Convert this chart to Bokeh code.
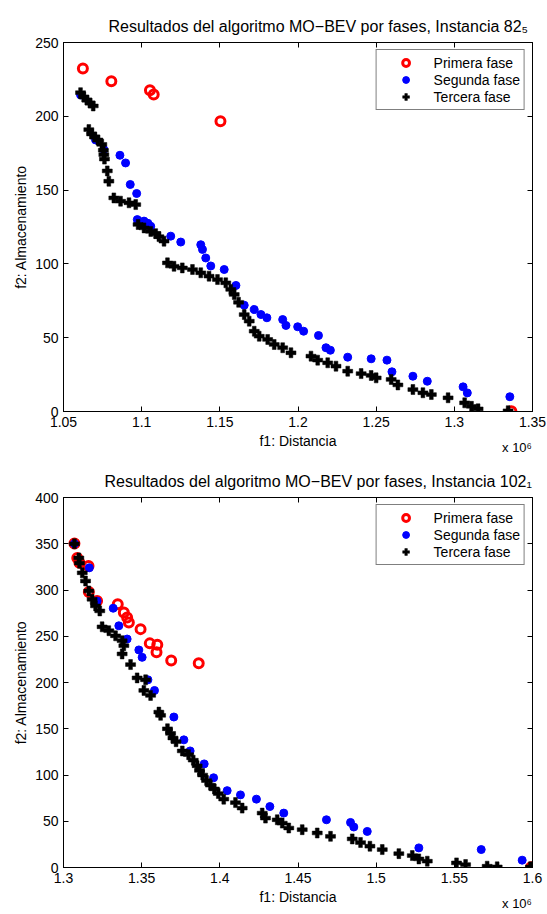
from bokeh.plotting import figure
from bokeh.models import Range1d, FixedTicker, LinearAxis
from bokeh.layouts import column
from bokeh.embed import file_html
from bokeh.resources import INLINE

FONT = "Liberation Sans"

# ---------------- data: instancia 82_5 (x in units of 10^6) ----------------
a_red_x = [1.0624, 1.0806, 1.1053, 1.1077, 1.1504, 1.3365]
a_red_y = [232.4, 223.8, 217.7, 214.8, 196.7, 0.2]

a_blue_x = [1.0609, 1.0705, 1.0758, 1.0861, 1.0897, 1.0927, 1.0968, 1.0972, 1.1015, 1.1040,
            1.1058, 1.1186, 1.1250, 1.1378, 1.1389, 1.1410, 1.1442, 1.1528, 1.1603, 1.1656,
            1.1720, 1.1763, 1.1801, 1.1902, 1.1923, 1.1998, 1.2036, 1.2131, 1.2179, 1.2207,
            1.2318, 1.2468, 1.2569, 1.2601, 1.2735, 1.2827, 1.3056, 1.3083, 1.3355]
a_blue_y = [214.5, 184.0, 177.5, 173.6, 168.4, 153.8, 147.7, 130.0, 129.0, 127.5,
            125.5, 118.8, 114.8, 113.0, 109.8, 104.0, 98.6, 96.2, 85.4, 72.0,
            69.1, 65.7, 63.5, 62.3, 58.3, 57.4, 54.4, 51.5, 43.2, 41.5,
            36.8, 35.7, 34.8, 26.9, 23.9, 20.5, 16.7, 12.6, 10.0]

a_black_x = [1.0609, 1.0630, 1.0650, 1.0670, 1.0690, 1.0662, 1.0680, 1.0700, 1.0720, 1.0745,
             1.0755, 1.0758, 1.0762, 1.0780, 1.0790, 1.0822, 1.0865, 1.0919, 1.0962, 1.0977,
             1.1015, 1.1058, 1.1090, 1.1110, 1.1143, 1.1165, 1.1207, 1.1260, 1.1325, 1.1378,
             1.1431, 1.1485, 1.1538, 1.1570, 1.1592, 1.1620, 1.1656, 1.1688, 1.1720, 1.1752,
             1.1806, 1.1848, 1.1902, 1.1955, 1.2083, 1.2126, 1.2190, 1.2243, 1.2318, 1.2404,
             1.2468, 1.2500, 1.2596, 1.2639, 1.2735, 1.2799, 1.2853, 1.2960, 1.3066, 1.3110,
             1.3152, 1.3344]
a_black_y = [216.0, 213.0, 211.0, 209.0, 207.0, 191.0, 188.0, 186.0, 184.0, 181.0,
             177.0, 174.0, 171.0, 163.0, 156.0, 144.7, 142.5, 141.4, 140.2, 126.7,
             124.4, 122.0, 120.5, 118.5, 115.4, 100.7, 98.4, 97.3, 96.2, 94.0,
             91.7, 89.4, 87.2, 82.7, 79.3, 74.0, 65.7, 61.2, 54.4, 51.0,
             48.8, 45.4, 43.2, 39.8, 37.5, 34.8, 33.0, 30.7, 27.3, 25.7,
             24.4, 22.8, 21.7, 18.0, 14.9, 12.7, 11.5, 9.3, 5.9, 3.5,
             1.8, 0.5]

# ---------------- data: instancia 102_1 ----------------
b_red_x = [1.3070, 1.3088, 1.3102, 1.3160, 1.3162, 1.3215, 1.3347, 1.3386, 1.3407, 1.3418,
           1.3493, 1.3552, 1.3600, 1.3595, 1.3689, 1.3865, 1.5991]
b_red_y = [350.2, 334.7, 329.4, 326.0, 297.8, 288.0, 284.6, 275.6, 270.2, 264.8,
           257.7, 242.3, 240.9, 232.6, 223.7, 220.8, 0.3]

b_blue_x = [1.3070, 1.3165, 1.3215, 1.3318, 1.3354, 1.3407, 1.3482, 1.3503, 1.3540, 1.3582,
            1.3706, 1.3770, 1.3810, 1.3900, 1.3960, 1.4047, 1.4132, 1.4234, 1.4320, 1.4409,
            1.4682, 1.4836, 1.4857, 1.4943, 1.5273, 1.5672, 1.5934]
b_blue_y = [350.0, 324.0, 288.0, 280.3, 261.3, 247.0, 235.2, 227.2, 202.9, 191.4,
            162.7, 138.0, 126.0, 112.0, 97.0, 83.1, 78.5, 73.9, 65.9, 58.8,
            51.6, 48.7, 43.8, 39.0, 21.2, 19.4, 7.9]

b_black_x = [1.3070, 1.3098, 1.3102, 1.3120, 1.3141, 1.3162, 1.3183, 1.3205, 1.3232, 1.3247,
             1.3290, 1.3333, 1.3375, 1.3386, 1.3375, 1.3429, 1.3471, 1.3525, 1.3514, 1.3557,
             1.3610, 1.3621, 1.3665, 1.3685, 1.3700, 1.3720, 1.3760, 1.3800, 1.3830, 1.3855,
             1.3870, 1.3890, 1.3915, 1.3940, 1.3965, 1.3990, 1.4025, 1.4100, 1.4143, 1.4271,
             1.4292, 1.4367, 1.4399, 1.4441, 1.4527, 1.4623, 1.4708, 1.4847, 1.4900, 1.4960,
             1.5039, 1.5145, 1.5231, 1.5273, 1.5327, 1.5514, 1.5572, 1.5710, 1.5774, 1.5987]
b_black_y = [350.0, 334.7, 329.0, 318.6, 309.7, 299.0, 290.0, 282.8, 277.4, 260.2,
             256.0, 250.5, 245.2, 239.8, 230.9, 219.4, 205.0, 202.9, 191.4, 186.0,
             168.0, 164.5, 150.0, 145.0, 140.0, 136.0, 126.0, 122.0, 116.0, 110.0,
             105.0, 100.0, 94.0, 89.0, 85.0, 80.0, 73.9, 70.2, 64.2, 58.8,
             53.4, 51.6, 48.0, 42.7, 40.9, 37.3, 33.7, 30.9, 27.0, 23.0,
             19.4, 15.0, 12.9, 9.3, 6.8, 5.0, 3.2, 1.4, 0.7, 0.7]

# ---------------- ticks / labels ----------------
a_xticks = [1.05, 1.1, 1.15, 1.2, 1.25, 1.3, 1.35]
a_xlabels = ["1.05", "1.1", "1.15", "1.2", "1.25", "1.3", "1.35"]
a_yticks = [0, 50, 100, 150, 200, 250]
b_xticks = [1.3, 1.35, 1.4, 1.45, 1.5, 1.55, 1.6]
b_xlabels = ["1.3", "1.35", "1.4", "1.45", "1.5", "1.55", "1.6"]
b_yticks = [0, 50, 100, 150, 200, 250, 300, 350, 400]

series_names = ["Primera fase", "Segunda fase", "Tercera fase"]
title_a = "Resultados del algoritmo MO\u2212BEV por fases, Instancia 82\u2085"
title_b = "Resultados del algoritmo MO\u2212BEV por fases, Instancia 102\u2081"
x_label = "f1: Distancia"
y_label = "f2: Almacenamiento"
x_exponent = "x 10\u2076"


def make_plot(title_text, red_x, red_y, blue_x, blue_y, black_x, black_y,
              xr, yr, xticks, xlabels, yticks, top, fh, title_off):
    W, H = 547, 457
    left, right = 63, 15
    fw = W - left - right
    bottom = H - top - fh
    p = figure(width=W, height=H, output_backend="svg", toolbar_location=None,
               x_range=Range1d(*xr), y_range=Range1d(*yr), title=title_text,
               min_border_left=left, min_border_right=right,
               min_border_top=top, min_border_bottom=bottom)
    p.title.align = "left"
    p.title.offset = title_off
    p.title.text_font = FONT
    p.title.text_font_size = "16px"
    p.title.text_font_style = "normal"
    p.title.text_color = "black"
    p.title.standoff = 16

    p.xgrid.visible = False
    p.ygrid.visible = False
    p.outline_line_color = "black"
    p.outline_line_width = 1
    p.background_fill_color = "white"
    p.border_fill_color = "white"

    p.scatter(red_x, red_y, marker="circle", size=9, fill_color=None,
              line_color="#ff0000", line_width=3, legend_label=series_names[0])
    p.scatter(blue_x, blue_y, marker="circle", size=8, fill_color="#0000ff",
              line_color="#0000ff", line_width=1, legend_label=series_names[1])
    p.scatter(black_x, black_y, marker="plus", size=10, fill_color="black",
              line_color="black", line_width=0.5, legend_label=series_names[2])

    overrides = {t: l for t, l in zip(xticks, xlabels)}
    for ax in p.xaxis:
        ax.ticker = FixedTicker(ticks=xticks)
        ax.major_label_overrides = overrides
    for ax in p.yaxis:
        ax.ticker = FixedTicker(ticks=yticks)

    for ax in list(p.xaxis) + list(p.yaxis):
        ax.major_tick_in = 5
        ax.major_tick_out = 0
        ax.minor_tick_line_color = None
        ax.axis_line_color = "black"
        ax.major_tick_line_color = "black"
        ax.major_label_text_font = FONT
        ax.major_label_text_font_size = "14px"
        ax.major_label_text_color = "black"
        ax.major_label_standoff = 5
        ax.axis_label_text_font = FONT
        ax.axis_label_text_font_size = "14px"
        ax.axis_label_text_font_style = "normal"
        ax.axis_label_text_color = "black"
    p.xaxis.axis_label = x_label
    p.xaxis.axis_label_standoff = 3
    p.yaxis.axis_label = y_label
    p.yaxis.axis_label_standoff = 3

    top_ax = LinearAxis(ticker=FixedTicker(ticks=xticks), major_tick_in=5, major_tick_out=0,
                        minor_tick_line_color=None, major_label_text_color=None,
                        major_label_text_font_size="1px", major_label_standoff=0)
    right_ax = LinearAxis(ticker=FixedTicker(ticks=yticks), major_tick_in=5, major_tick_out=0,
                          minor_tick_line_color=None, major_label_text_color=None,
                          major_label_text_font_size="1px", major_label_standoff=0)
    p.add_layout(top_ax, "above")
    p.add_layout(right_ax, "right")

    # exponent "x 10^6" under the right end of the x axis, as the label of a
    # second, line-less axis stacked below the main one
    exp_pos = xr[1] - 15.5 * (xr[1] - xr[0]) / fw
    exp_ax = LinearAxis(ticker=FixedTicker(ticks=[exp_pos]),
                        major_label_overrides={exp_pos: x_exponent},
                        axis_line_color=None, major_tick_line_color=None,
                        minor_tick_line_color=None, major_tick_in=0, major_tick_out=0,
                        major_label_standoff=-12, major_label_text_font=FONT,
                        major_label_text_font_size="13px", major_label_text_color="black")
    p.add_layout(exp_ax, "below")

    lg = p.legend[0]
    lg.location = "top_right"
    lg.margin = 7
    lg.padding = 4
    lg.spacing = 0
    lg.glyph_height = 17
    lg.label_height = 16
    lg.glyph_width = 50
    lg.label_standoff = 3
    lg.label_text_font = FONT
    lg.label_text_font_size = "14px"
    lg.label_text_color = "black"
    lg.border_line_color = "black"
    lg.border_line_width = 1
    lg.background_fill_alpha = 1.0
    return p


p1 = make_plot(title_a, a_red_x, a_red_y, a_blue_x, a_blue_y, a_black_x, a_black_y,
               (1.05, 1.35), (0, 250), a_xticks, a_xlabels, a_yticks, 42, 370, 45)
p2 = make_plot(title_b, b_red_x, b_red_y, b_blue_x, b_blue_y, b_black_x, b_black_y,
               (1.3, 1.6), (0, 400), b_xticks, b_xlabels, b_yticks, 40, 370, 41)

layout = column(p1, p2, spacing=0)
open("out.html", "w").write(file_html(layout, INLINE))
